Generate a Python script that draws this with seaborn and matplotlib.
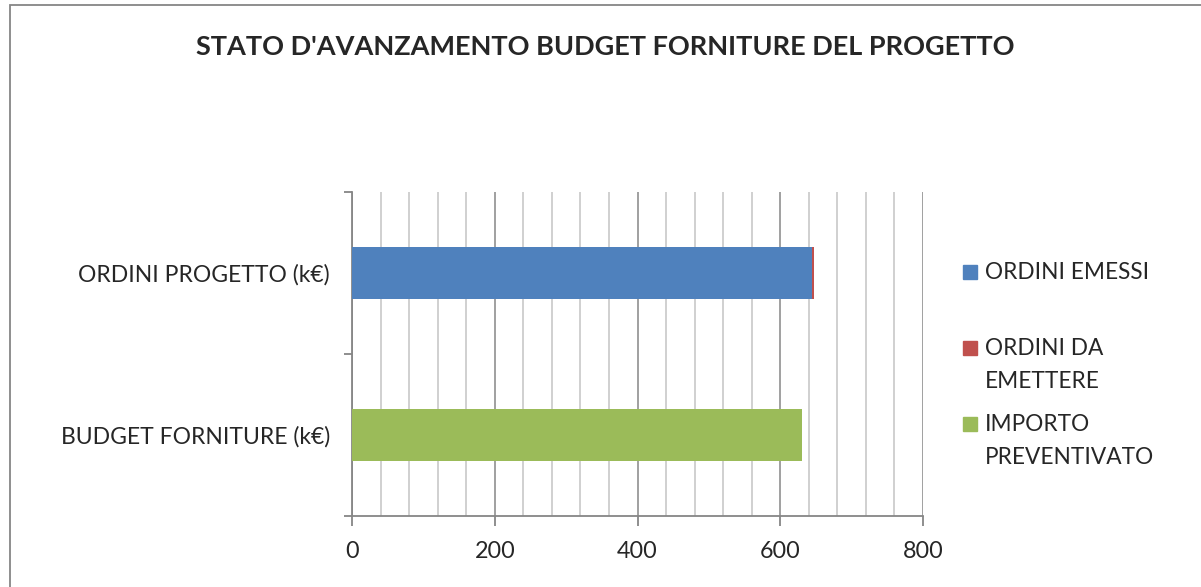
import matplotlib.pyplot as plt
import matplotlib.patches as mpatches
from matplotlib.ticker import MultipleLocator, FixedLocator
import pandas as pd
import seaborn as sns

# Data (k€)
categories = ["ORDINI PROGETTO (k€)", "BUDGET FORNITURE (k€)"]
ordini_emessi = [645, 0]
ordini_da_emettere = [2, 0]
importo_preventivato = [0, 630]

series_names = ["ORDINI EMESSI", "ORDINI DA\nEMETTERE", "IMPORTO\nPREVENTIVATO"]
colors = ["#4F81BD", "#C0504D", "#9BBB59"]

df = pd.DataFrame({
    "cat": categories,
    "emessi": ordini_emessi,
    "da_emettere": ordini_da_emettere,
    "preventivato": importo_preventivato,
})
# cumulative layers for stacking (drawn back to front)
df["cum1"] = df["emessi"]
df["cum2"] = df["cum1"] + df["da_emettere"]
df["cum3"] = df["cum2"] + df["preventivato"]

sns.set_style("white")
plt.rcParams["font.family"] = ["Lato", "DejaVu Sans"]

fig = plt.figure(figsize=(12.01, 5.87), dpi=100)
ax = fig.add_axes([352 / 1201, 1 - 516 / 587, (923 - 352) / 1201, (516 - 192) / 587])

for col, c in zip(["cum3", "cum2", "cum1"], [colors[2], colors[1], colors[0]]):
    sns.barplot(data=df, x=col, y="cat", order=categories, color=c,
                width=0.32, saturation=1, ax=ax, zorder=3, linewidth=0)

ax.set_xlim(0, 800)
ax.set_ylim(1.5, -0.5)
ax.xaxis.set_major_locator(MultipleLocator(200))
ax.xaxis.set_minor_locator(MultipleLocator(40))
ax.yaxis.set_minor_locator(FixedLocator([-0.5, 0.5, 1.5]))

ax.grid(which="major", axis="x", color="#868686", linewidth=1.1, zorder=0)
ax.grid(which="minor", axis="x", color="#c4c4c4", linewidth=1.1, zorder=0)
ax.set_axisbelow(True)

for s in ["top", "right"]:
    ax.spines[s].set_visible(False)
for s in ["left", "bottom"]:
    ax.spines[s].set_color("#868686")
    ax.spines[s].set_linewidth(1.3)

ax.tick_params(axis="both", which="both", left=True, bottom=True)
ax.tick_params(axis="x", which="major", length=7, width=1.3, color="#868686",
               labelsize=16.8, pad=11)
ax.tick_params(axis="x", which="minor", length=0)
ax.tick_params(axis="y", which="major", length=0, labelsize=16.5, pad=16)
ax.tick_params(axis="y", which="minor", length=6, width=1.3, color="#868686")
ax.set_xlabel("")
ax.set_ylabel("")

fig.text(605 / 1201, 1 - 47 / 587, "STATO D'AVANZAMENTO BUDGET FORNITURE DEL PROGETTO",
         ha="center", va="center", fontsize=19.5, fontweight="bold")

# legend drawn Excel-style: marker aligned with first text line
leg_y = [272, 348, 424]
for name, c, y in zip(series_names, colors, leg_y):
    fig.patches.append(mpatches.Rectangle((963 / 1201, 1 - (y + 7) / 587), 14 / 1201, 14 / 587,
                                          transform=fig.transFigure, color=c))
    fig.text(985 / 1201, 1 - (y - 10) / 587, name, ha="left", va="top",
             fontsize=16.3, linespacing=1.73)

# outer chart frame
fig.patches.append(mpatches.Rectangle((10 / 1201, -0.1), 1.2, 1 - 5 / 587 + 0.1,
                                      transform=fig.transFigure, fill=False,
                                      edgecolor="#868686", linewidth=1.3))

fig.savefig("out.png", dpi=100)
